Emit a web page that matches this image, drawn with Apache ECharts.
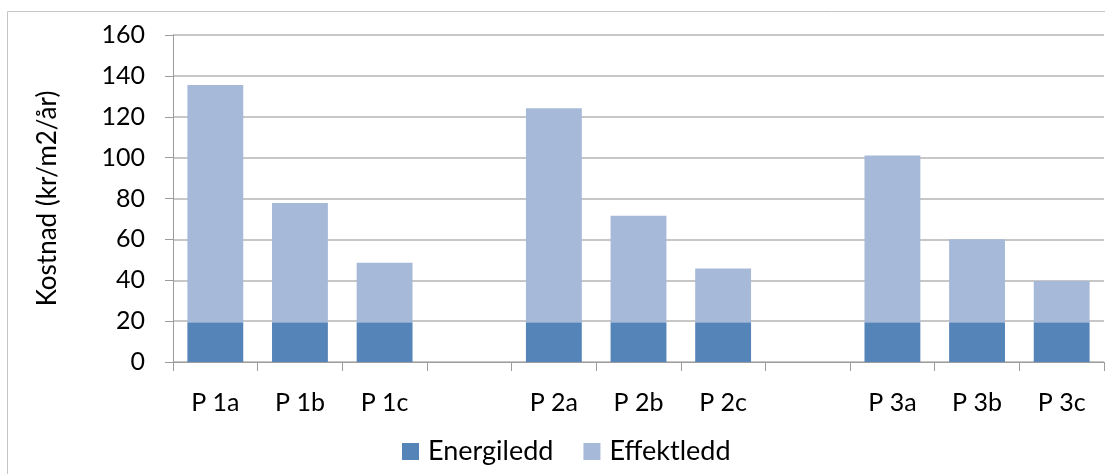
<!DOCTYPE html>
<html>
<head>
<meta charset="utf-8">
<script src="https://cdn.jsdelivr.net/npm/echarts@6/dist/echarts.min.js"></script>
<style>
html,body{margin:0;padding:0;background:#fff;}
#chart{width:1105px;height:474px;}
</style>
</head>
<body>
<div id="chart"></div>
<script>
const categories = ['P 1a', 'P 1b', 'P 1c', '', 'P 2a', 'P 2b', 'P 2c', '', 'P 3a', 'P 3b', 'P 3c'];
const energiledd = [19.5, 19.5, 19.5, null, 19.5, 19.5, 19.5, null, 19.5, 19.5, 19.5];
const effektledd = [116, 58.3, 29.1, null, 104.6, 52.1, 26.2, null, 81.6, 40.6, 20.1];
const yTicks = [0, 20, 40, 60, 80, 100, 120, 140, 160];

const chart = echarts.init(document.getElementById('chart'));
const font = 'Lato, "Open Sans", sans-serif';
chart.setOption({
  animation: false,
  backgroundColor: '#fff',
  graphic: [{
    type: 'rect',
    shape: {x: 7.5, y: 11.5, width: 1110, height: 470},
    style: {fill: 'none', stroke: '#c6c6c6', lineWidth: 1},
    silent: true
  }],
  grid: {left: 173, right: 1, top: 35, bottom: 112, containLabel: false},
  legend: {
    top: 433,
    left: 397,
    itemWidth: 17,
    itemHeight: 17,
    itemGap: 30,
    icon: 'rect',
    textStyle: {fontFamily: font, fontSize: 27, color: '#000', padding: [0, 0, 0, 4]},
    data: ['Energiledd', 'Effektledd']
  },
  xAxis: {
    type: 'category',
    data: categories,
    axisLine: {lineStyle: {color: '#9c9c9c', width: 1}},
    axisTick: {show: true, length: 9, alignWithLabel: false, lineStyle: {color: '#9c9c9c'}},
    axisLabel: {fontFamily: font, fontSize: 25, color: '#000', margin: 28, interval: 0}
  },
  yAxis: {
    type: 'value',
    min: 0,
    max: 160,
    interval: 20,
    name: 'Kostnad (kr/m2/år)',
    nameLocation: 'middle',
    nameGap: 112,
    nameTextStyle: {fontFamily: font, fontSize: 26, color: '#000'},
    axisLine: {show: true, lineStyle: {color: '#9c9c9c'}},
    axisTick: {show: true, length: 8, lineStyle: {color: '#9c9c9c'}},
    axisLabel: {
      fontFamily: font, fontSize: 25, color: '#000', margin: 28,
      formatter: v => yTicks.includes(v) ? String(v) : ''
    },
    splitLine: {lineStyle: {color: '#b4b4b4', width: 1.5}}
  },
  series: [
    {
      name: 'Energiledd',
      type: 'bar',
      stack: 'total',
      data: energiledd,
      barCategoryGap: '34%',
      itemStyle: {color: '#5584b8'}
    },
    {
      name: 'Effektledd',
      type: 'bar',
      stack: 'total',
      data: effektledd,
      barCategoryGap: '34%',
      itemStyle: {color: '#a6b9d9'}
    }
  ]
});
</script>
</body>
</html>
